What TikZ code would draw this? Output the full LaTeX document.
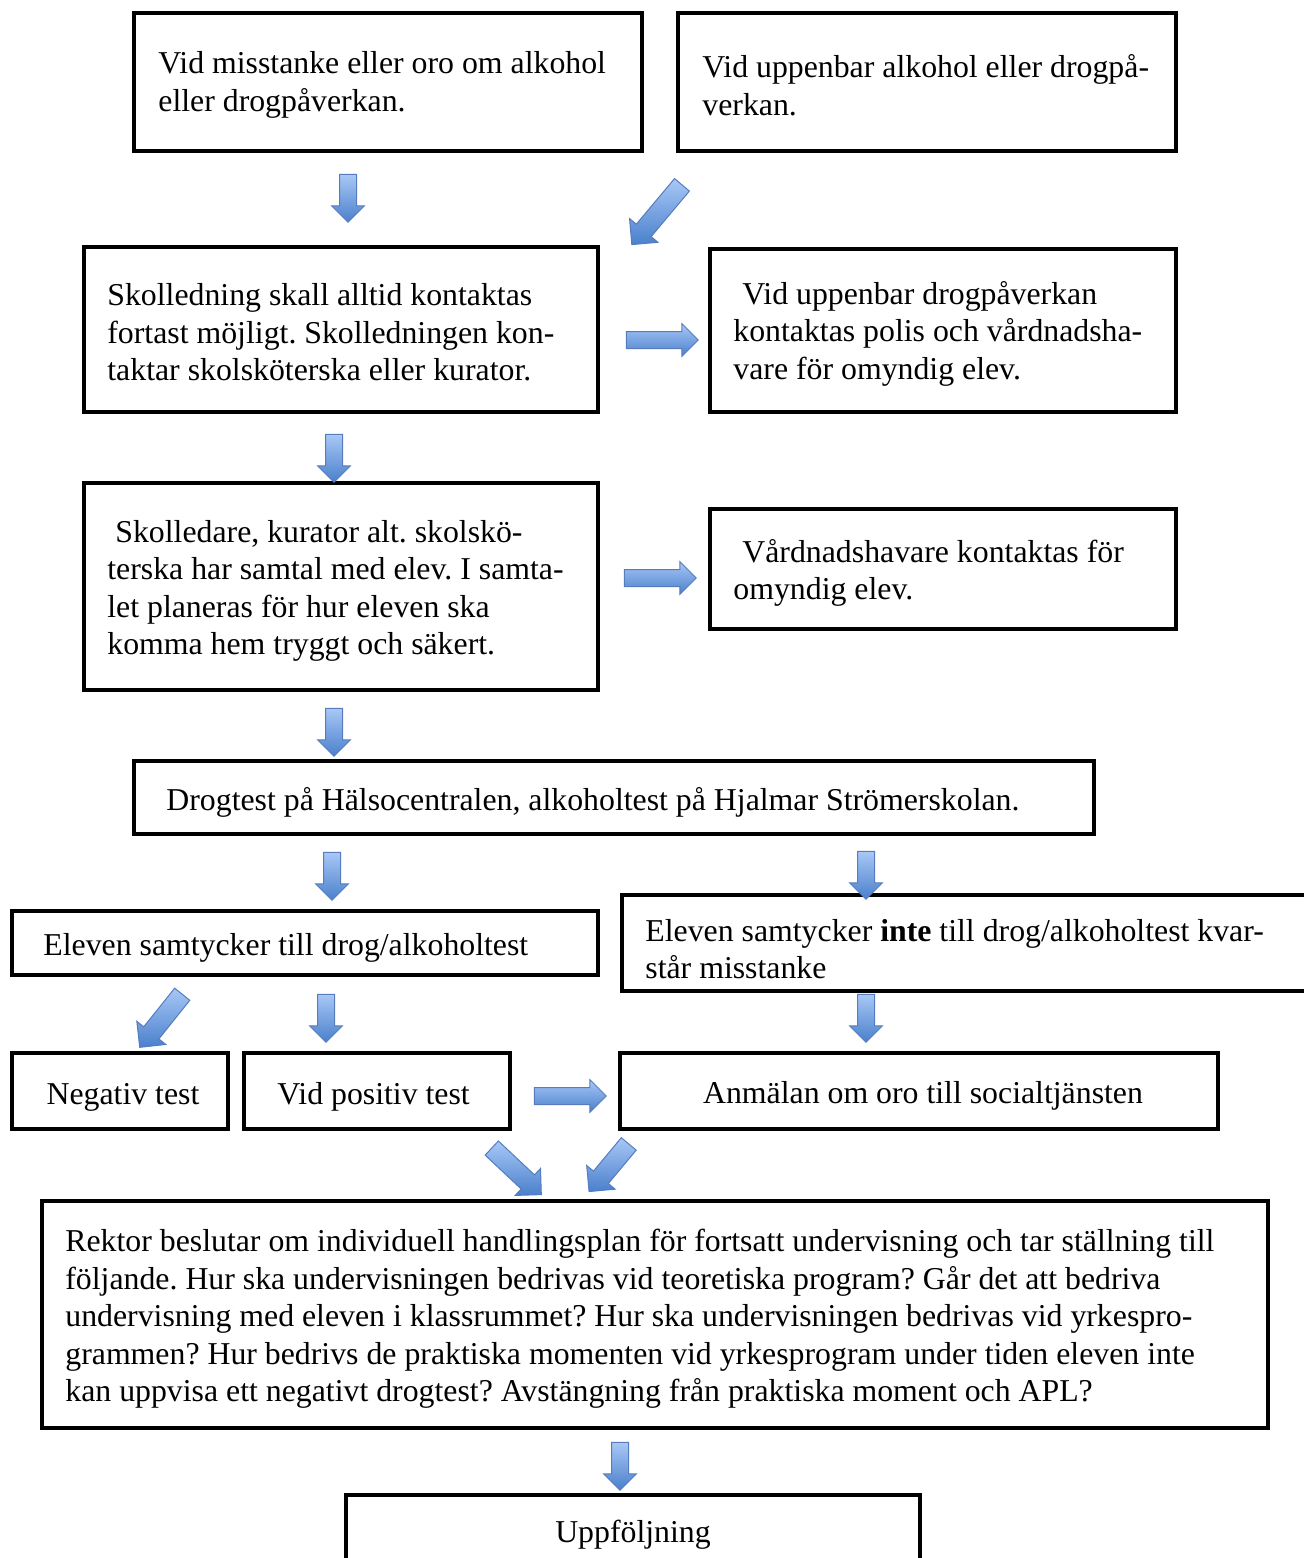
\documentclass[tikz,border=0pt]{standalone}
\usepackage{fontspec}
\setmainfont{Liberation Serif}
\frenchspacing
\usetikzlibrary{shapes.arrows}
\definecolor{arrlight}{RGB}{168,200,246}
\definecolor{arrdark}{RGB}{74,128,204}
\definecolor{arredge}{RGB}{86,124,190}
\tikzset{
  box/.style={draw=black, line width=2pt, rectangle, inner sep=0pt},
  txt/.style={align=left, inner sep=0pt, anchor=west, yshift=-1.5pt, font=\fontsize{15.9}{18.75}\selectfont},
  ctxt/.style={align=center, inner sep=0pt, yshift=-1.5pt, font=\fontsize{15.9}{18.75}\selectfont},
  barrow/.style={single arrow, draw=arredge, line width=0.5pt, top color=arrlight, bottom color=arrdark,
    minimum width=16pt, inner xsep=0pt, inner ysep=4pt, single arrow head extend=4pt, minimum height=24pt},
  darrow/.style={barrow, minimum width=18pt, inner ysep=4.6pt, single arrow head extend=4.4pt}
}
\begin{document}
\begin{tikzpicture}[x=0.5pt,y=-0.5pt]
\useasboundingbox (0,0) rectangle (1304,1558);
% boxes
\node[box, minimum width=254pt, minimum height=69pt] (A) at (388,82) {};
\node[box, minimum width=249pt, minimum height=69pt] (B) at (927,82) {};
\node[box, minimum width=257pt, minimum height=82.5pt] (C) at (341,329.5) {};
\node[box, minimum width=233pt, minimum height=81.5pt] (D) at (943,330.5) {};
\node[box, minimum width=257pt, minimum height=103.5pt] (E) at (341,586.5) {};
\node[box, minimum width=233pt, minimum height=60pt] (F) at (943,569) {};
\node[box, minimum width=480pt, minimum height=36.5pt] (G) at (614,797.5) {};
\node[box, minimum width=293pt, minimum height=32pt] (H) at (305,943) {};
\node[box, minimum width=354pt, minimum height=48pt] (I) at (976,943) {};
\node[box, minimum width=108pt, minimum height=38pt] (J) at (120,1091) {};
\node[box, minimum width=133pt, minimum height=38pt] (K) at (377,1091) {};
\node[box, minimum width=299pt, minimum height=38pt] (L) at (919,1091) {};
\node[box, minimum width=613pt, minimum height=113.5pt] (M) at (655,1314.5) {};
\node[box, minimum width=287pt, minimum height=47.5pt] (N) at (633,1542.5) {};
% texts
\node[txt] (tA) at (158,82) {Vid misstanke eller oro om alkohol\\eller drogpåverkan.};
\node[txt] (tB) at (702,82) {Vid uppenbar alkohol eller drogpå-\\verkan.};
\node[txt] (tC) at (107,329.5) {Skolledning skall alltid kontaktas\\fortast möjligt. Skolledningen kon-\\taktar skolsköterska eller kurator.};
\node[txt] (tD) at (733,330.5) {\hspace*{4.5pt}Vid uppenbar drogpåverkan\\kontaktas polis och vårdnadsha-\\vare för omyndig elev.};
\node[txt] (tE) at (107,588) {\hspace*{4pt}Skolledare, kurator alt. skolskö-\\terska har samtal med elev. I samta-\\let planeras för hur eleven ska\\komma hem tryggt och säkert.};
\node[txt] (tF) at (733,570) {\hspace*{4.5pt}Vårdnadshavare kontaktas för\\omyndig elev.};
\node[txt] (tG) at (166,799) {Drogtest på Hälsocentralen, alkoholtest på Hjalmar Strömerskolan.};
\node[txt] (tH) at (43,945) {Eleven samtycker till drog/alkoholtest};
\node[txt] (tI) at (645,946) {Eleven samtycker \textbf{inte} till drog/alkoholtest kvar-\\står misstanke};
\node[ctxt] (tJ) at (123,1094) {Negativ test};
\node[txt] (tK) at (277,1094) {Vid positiv test};
\node[ctxt] (tL) at (923,1093) {Anmälan om oro till socialtjänsten};
\node[txt] (tM) at (65,1316) {Rektor beslutar om individuell handlingsplan för fortsatt undervisning och tar ställning till\\följande. Hur ska undervisningen bedrivas vid teoretiska program? Går det att bedriva\\undervisning med eleven i klassrummet? Hur ska undervisningen bedrivas vid yrkespro-\\grammen? Hur bedrivs de praktiska momenten vid yrkesprogram under tiden eleven inte\\kan uppvisa ett negativt drogtest? Avstängning från praktiska moment och APL?};
\node[ctxt] (tN) at (633,1532) {Uppföljning};
% block arrows
\node[barrow, rotate=-90] (a1) at (348,194) {};
\node[darrow, rotate=-130, minimum height=39pt] (a2) at (660,211) {};
\node[barrow, minimum height=36pt] (a3) at (658,340) {};
\node[barrow, rotate=-90] (a4) at (334,454) {};
\node[barrow, minimum height=36pt] (a5) at (656,578) {};
\node[barrow, rotate=-90] (a6) at (334,728) {};
\node[barrow, rotate=-90] (a7) at (332,872) {};
\node[barrow, rotate=-90] (a8) at (866,871) {};
\node[darrow, rotate=-128.7, minimum height=34pt] (a9) at (164,1017) {};
\node[barrow, rotate=-90] (a10) at (326,1014) {};
\node[barrow, rotate=-90] (a11) at (866,1014) {};
\node[barrow, minimum height=36pt] (a12) at (566,1096) {};
\node[darrow, rotate=-43.2, minimum height=34pt] (a13) at (513,1168) {};
\node[darrow, rotate=-129.8, minimum height=31pt] (a14) at (612,1164) {};
\node[barrow, rotate=-90] (a15) at (620,1462) {};
\end{tikzpicture}
\end{document}
